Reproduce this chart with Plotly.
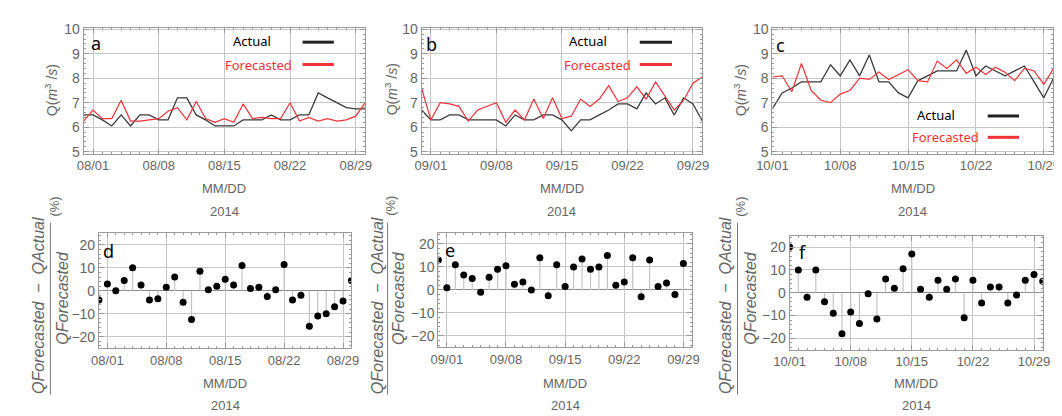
import plotly.graph_objects as go
import pandas as pd

W, H = 1062, 416

# ---------------- data ----------------
aug_dates = pd.date_range("2014-07-31", "2014-08-30").strftime("%Y-%m-%d").tolist()
sep_dates = pd.date_range("2014-08-31", "2014-09-30").strftime("%Y-%m-%d").tolist()
oct_dates = pd.date_range("2014-10-01", "2014-10-30").strftime("%Y-%m-%d").tolist()

aug_actual = [6.5, 6.5, 6.3, 6.05, 6.5, 6.05, 6.5, 6.5, 6.3, 6.3, 7.2, 7.2, 6.5, 6.3, 6.05, 6.05,
              6.05, 6.3, 6.3, 6.3, 6.5, 6.3, 6.3, 6.5, 6.5, 7.4, 7.2, 7.0, 6.8, 6.75, 6.75]
aug_forecast = [6.25, 6.7, 6.35, 6.35, 7.1, 6.25, 6.25, 6.3, 6.35, 6.65, 6.8, 6.3, 7.05, 6.35, 6.2, 6.35,
                6.2, 6.95, 6.35, 6.4, 6.35, 6.35, 7.0, 6.25, 6.4, 6.25, 6.35, 6.25, 6.3, 6.45, 7.0]

sep_actual = [6.7, 6.3, 6.3, 6.5, 6.5, 6.3, 6.3, 6.3, 6.3, 6.05, 6.5, 6.3, 6.3, 6.5, 6.5, 6.3,
              5.85, 6.3, 6.3, 6.5, 6.7, 6.95, 6.95, 6.75, 7.4, 6.95, 7.2, 6.5, 7.2, 6.95, 6.25]
sep_forecast = [7.6, 6.3, 7.0, 6.95, 6.85, 6.25, 6.7, 6.85, 7.0, 6.2, 6.7, 6.3, 7.15, 6.35, 7.2, 6.35,
                6.45, 7.15, 6.85, 7.15, 7.7, 7.05, 7.2, 7.65, 7.15, 7.85, 7.25, 6.7, 7.1, 7.8, 8.05]

oct_actual = [6.75, 7.4, 7.6, 7.85, 7.85, 7.85, 8.55, 8.1, 8.75, 8.1, 8.95, 7.85, 7.85, 7.4, 7.2,
              7.9, 8.1, 8.3, 8.3, 8.3, 9.15, 8.1, 8.5, 8.3, 8.1, 8.3, 8.5, 7.85, 7.2, 8.0]
oct_forecast = [8.05, 8.1, 7.45, 8.6, 7.5, 7.1, 7.0, 7.35, 7.5, 8.0, 7.95, 8.25, 7.95, 8.15, 8.35,
                7.9, 7.85, 8.7, 8.4, 8.75, 8.2, 8.45, 8.15, 8.45, 8.25, 7.9, 8.4, 8.3, 7.75, 8.4]

aug_err = [-4, 3, 0, 4.5, 10, 2.5, -4, -3.5, 1.5, 6, -5, -12.5, 8.5, 0.5, 2, 5,
           2.5, 11, 1, 1.5, -2.5, 0.5, 11.5, -4, -2, -15.5, -11, -10, -7, -4.5, 4.5]
sep_err = [13, 1, 11, 6.5, 5, -1, 5.5, 9, 10.5, 2.5, 3.5, 0, 14, -2.5, 11, 1.5,
           10, 13.5, 9, 10, 15, 2, 3.5, 14, -3, 13, 1.5, 3, -2, 11.5]
sep_err_dates = sep_dates[:len(sep_err)]
oct_err = [20, 10, -2, 10, -4, -9, -18, -8.5, -13.5, -0.5, -11.5, 6, 2, 10.5, 17,
           1.5, -2, 5.5, 1.5, 6, -11, 5.5, -4.5, 2.5, 2.5, -4.5, -1, 5.5, 8, 5]

tick_starts = ["2014-08-01", "2014-09-01", "2014-10-01"]
x_ranges = [["2014-07-31", "2014-08-30"], ["2014-08-31", "2014-09-30"], ["2014-10-01", "2014-10-30"]]
letters_top = ["a", "b", "c"]
letters_bot = ["d", "e", "f"]

# ---------------- layout helpers ----------------
def fx(p):
    return p / W


def fy(p):
    return 1 - p / H


TICKFONT = dict(family="Liberation Sans, Arial, sans-serif", size=13, color="#666666")
GRID = "#c6c6c6"
FRAME = "#9a9a9a"
DAY = 86400000

top_dom = [(61, 349, 14, 144), (406.7, 694, 14, 144), (765.7, 1053.3, 14, 144)]
bot_dom = [(76.7, 335, 226, 344), (424, 683.3, 225, 343.3), (783.3, 1042.3, 228.3, 345.7)]

fig = go.Figure()
layout = dict(width=W, height=H, margin=dict(l=0, r=0, t=0, b=0),
              paper_bgcolor="white", plot_bgcolor="white", showlegend=False)
annotations = []
shapes = []


def ann(x, y, text, font, angle=0, xanchor="center"):
    return dict(x=fx(x), y=fy(y), text=text, showarrow=False, font=font, textangle=angle,
                xanchor=xanchor, yanchor="middle", xref="paper", yref="paper")


def xaxis_spec(dom, rng, t0):
    return dict(domain=[fx(dom[0]), fx(dom[1])], type="date", range=rng,
                tick0=t0, dtick=7 * DAY, tickformat="%m/%d",
                showline=True, linecolor=FRAME, linewidth=1, mirror="allticks",
                ticks="inside", ticklen=5, tickcolor=FRAME,
                minor=dict(ticks="inside", ticklen=2, dtick=DAY, tickcolor=FRAME, showgrid=False),
                showgrid=True, gridcolor=GRID, gridwidth=1, zeroline=False,
                tickfont=TICKFONT, ticklabelstandoff=0)


def yaxis_spec(dom, rng, dtick, mdt, xa, zero=False):
    return dict(domain=[fy(dom[3]), fy(dom[2])], range=rng, dtick=dtick, anchor=xa,
                showline=True, linecolor=FRAME, linewidth=1, mirror="allticks",
                ticks="inside", ticklen=5, tickcolor=FRAME,
                minor=dict(ticks="inside", ticklen=2, dtick=mdt, tickcolor=FRAME, showgrid=False),
                showgrid=True, gridcolor=GRID, gridwidth=1,
                zeroline=zero, zerolinecolor="#8a8a8a", zerolinewidth=1,
                tickfont=dict(family="Liberation Sans, Arial, sans-serif", size=14, color="#666666"))


top_series = [(aug_dates, aug_actual, aug_forecast), (sep_dates, sep_actual, sep_forecast),
              (oct_dates, oct_actual, oct_forecast)]
bot_series = [(aug_dates, aug_err), (sep_err_dates, sep_err), (oct_dates, oct_err)]

legend_pos = [
    dict(ax=212, ay=28, fx_=204, fy_=52, l0=285, l1=317),
    dict(ax=556, ay=28, fx_=550, fy_=52, l0=630, l1=663),
    dict(ax=912, ay=104, fx_=906, fy_=127, l0=986, l1=1018),
]
letter_top_pos = [(74, 30), (417, 31), (774, 32)]
letter_bot_pos = [(86, 244), (436, 243), (797, 245)]
qlabel_x = [27, 375, 732]
frac_pos = [dict(num=15, bar=27, den=39, pc=31),
            dict(num=362, bar=372, den=383, pc=375),
            dict(num=718, bar=730, den=743, pc=733)]

LABELFONT = dict(family="Liberation Sans, Arial, sans-serif", size=13, color="#666666")
GRAY16I = dict(family="Liberation Sans, Arial", size=16, color="#666666")
LEGFONT = "Noto Sans, sans-serif"

for i in range(3):
    # ---- top panel ----
    n = 2 * i + 1
    xa = "x" if n == 1 else f"x{n}"
    ya = "y" if n == 1 else f"y{n}"
    xk = "xaxis" if n == 1 else f"xaxis{n}"
    yk = "yaxis" if n == 1 else f"yaxis{n}"
    dom = top_dom[i]
    layout[xk] = xaxis_spec(dom, x_ranges[i], tick_starts[i])
    layout[xk]["anchor"] = ya
    layout[yk] = yaxis_spec(dom, [4.91, 10.07], 1, 0.2, xa)
    d, act, fc = top_series[i]
    fig.add_trace(go.Scatter(x=d, y=act, mode="lines", line=dict(color="#3a3a3a", width=1.3),
                             xaxis=xa, yaxis=ya))
    fig.add_trace(go.Scatter(x=d, y=fc, mode="lines", line=dict(color="#f2343a", width=1.2),
                             xaxis=xa, yaxis=ya))
    cx = (dom[0] + dom[1]) / 2
    annotations += [
        ann(cx, 180, "MM/DD", LABELFONT),
        ann(cx, 203, "2014", LABELFONT),
        ann(qlabel_x[i], 78, "Q(<i>m</i><sup>3</sup> /<i>s</i>)",
            dict(family="Liberation Sans, Arial", size=14, color="#666666"), angle=-90),
        ann(letter_top_pos[i][0], letter_top_pos[i][1], letters_top[i],
            dict(family=LEGFONT, size=18, color="black")),
    ]
    lp = legend_pos[i]
    annotations += [
        ann(lp["ax"], lp["ay"], "Actual", dict(family=LEGFONT, size=13, color="black"), xanchor="left"),
        ann(lp["fx_"], lp["fy_"], "Forecasted", dict(family=LEGFONT, size=13, color="#f2343a"),
            xanchor="left"),
    ]
    shapes += [
        dict(type="line", xref="paper", yref="paper", x0=fx(lp["l0"]), x1=fx(lp["l1"]),
             y0=fy(lp["ay"] + 1), y1=fy(lp["ay"] + 1), line=dict(color="#222222", width=3)),
        dict(type="line", xref="paper", yref="paper", x0=fx(lp["l0"]), x1=fx(lp["l1"]),
             y0=fy(lp["fy_"]), y1=fy(lp["fy_"]), line=dict(color="#f2343a", width=3)),
    ]

    # ---- bottom panel ----
    n = 2 * i + 2
    xa = f"x{n}"
    ya = f"y{n}"
    xk = f"xaxis{n}"
    yk = f"yaxis{n}"
    dom = bot_dom[i]
    layout[xk] = xaxis_spec(dom, x_ranges[i], tick_starts[i])
    layout[xk]["anchor"] = ya
    layout[yk] = yaxis_spec(dom, [-25, 25], 10, 2, xa, zero=True)
    d, err = bot_series[i]
    sx, sy = [], []
    for di, ei in zip(d, err):
        sx += [di, di, None]
        sy += [0, ei, None]
    fig.add_trace(go.Scatter(x=sx, y=sy, mode="lines", line=dict(color="#c4c4c4", width=1.2),
                             xaxis=xa, yaxis=ya))
    fig.add_trace(go.Scatter(x=d, y=err, mode="markers", marker=dict(color="black", size=7),
                             xaxis=xa, yaxis=ya))
    cx = (dom[0] + dom[1]) / 2
    fp = frac_pos[i]
    annotations += [
        ann(cx, 380, "MM/DD", LABELFONT),
        ann(cx, 403, "2014", LABELFONT),
        ann(letter_bot_pos[i][0], letter_bot_pos[i][1], letters_bot[i],
            dict(family=LEGFONT, size=18, color="black")),
        ann(fp["num"], 300, "<i>QForecasted</i>\u00a0\u00a0\u2212\u00a0\u00a0<i>QActual</i>",
            GRAY16I, angle=-90),
        ann(fp["den"], 292, "<i>QForecasted</i>", GRAY16I, angle=-90),
        ann(fp["pc"], 198, "(%)", dict(family="Liberation Sans, Arial", size=13, color="#666666"),
            angle=-90),
    ]
    shapes.append(dict(type="line", xref="paper", yref="paper", x0=fx(fp["bar"]), x1=fx(fp["bar"]),
                       y0=fy(215), y1=fy(392), line=dict(color="#777777", width=1)))

layout["annotations"] = annotations
layout["shapes"] = shapes
fig.update_layout(**layout)
fig.write_html("out.html")
